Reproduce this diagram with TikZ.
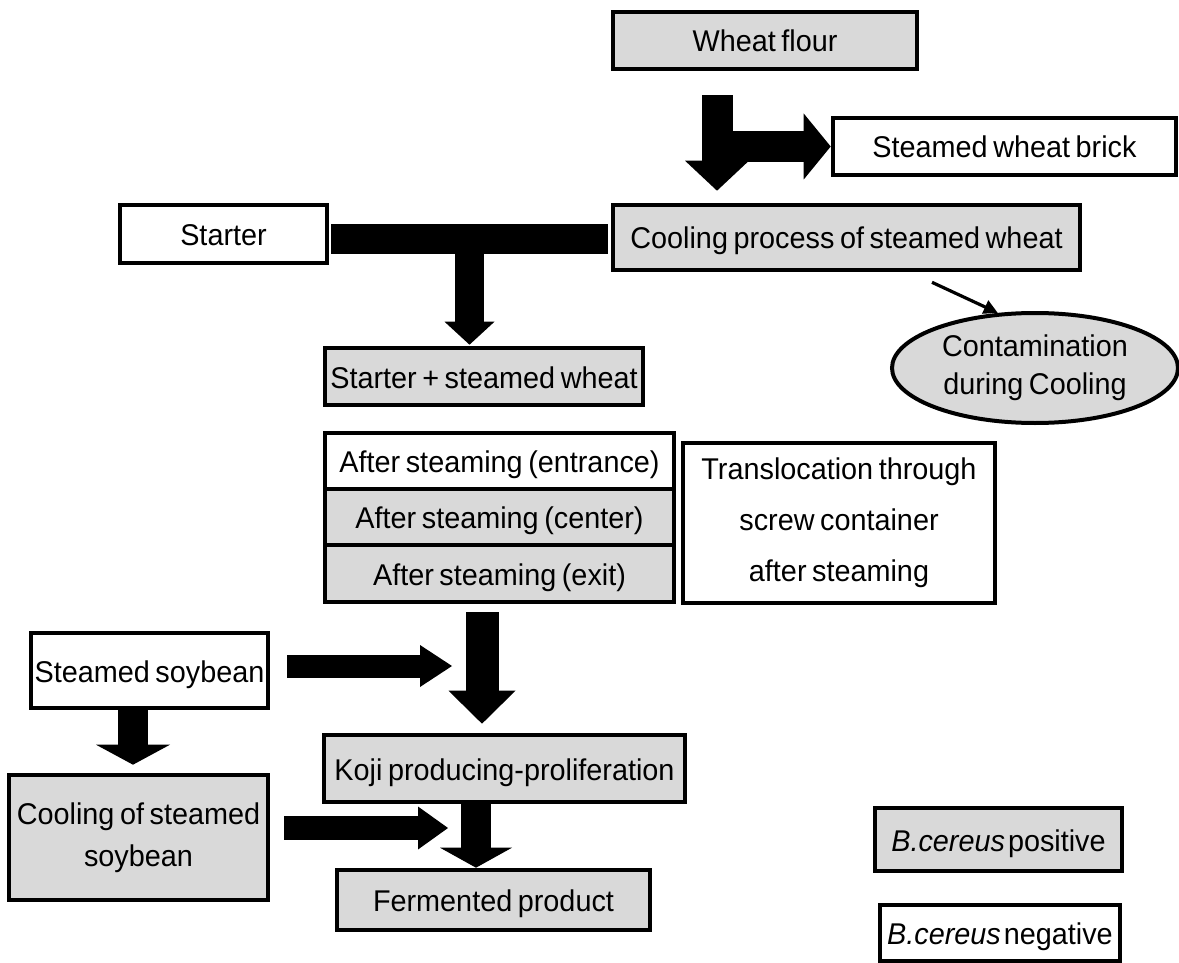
\documentclass[tikz,border=0pt]{standalone}
\usepackage{fontspec}
\setmainfont{Liberation Sans}[FakeStretch=0.96, WordSpace=0.7]
\usetikzlibrary{arrows.meta,shapes.geometric,calc}
\definecolor{boxgray}{RGB}{217,217,217}
\tikzset{
  base/.style={draw, line width=2.3pt, inner sep=0pt,
    font=\fontsize{15}{18}\selectfont, text height=11.5pt, text depth=0pt},
  grayb/.style={base, fill=boxgray},
  whiteb/.style={base, fill=white},
  multi/.style={draw, line width=2.3pt, inner sep=0pt, align=center},
  sz/.style 2 args={minimum width=#1, minimum height=#2},
  fatarrow/.style n args={3}{line width=#1,
    -{Triangle[length=#3, width=#2, line width=0pt]}},
  thinarrow/.style={line width=1.6pt, -{Triangle[length=7pt, width=7pt]}}
}
\begin{document}
\begin{tikzpicture}[x=0.5pt, y=-0.5pt]
\useasboundingbox (0,0) rectangle (1179,963);

% wheat branch
\node[grayb, sz={152pt}{28.5pt}] (wf) at (765,40.5) {Wheat flour};
\node[whiteb, sz={171.5pt}{28.5pt}] (brick) at (1004.5,146.5) {Steamed wheat brick};
\node[grayb, sz={233.5pt}{32.5pt}] (cool) at (846.5,237.5) {Cooling process of steamed wheat};
\node[whiteb, sz={103.5pt}{29pt}] (starter) at (223.5,234) {Starter};
\node[grayb, sz={159pt}{28.5pt}] (mix) at (484,376.5) {Starter + steamed wheat};
\node[ellipse, draw, line width=2pt, fill=boxgray, inner sep=0pt,
      minimum width=143pt, minimum height=55pt, align=center,
      font=\fontsize{15}{19}\selectfont] (contam) at (1035,368)
      {Contamination\\during Cooling};

% screw container stages
\node[whiteb, sz={174.5pt}{28pt}] (ent) at (499.5,461) {After steaming (entrance)};
\node[grayb, sz={174.5pt}{28pt}] (cen) at (499.5,517) {After steaming (center)};
\node[grayb, sz={174.5pt}{28.5pt}] (exit) at (499.5,573.5) {After steaming (exit)};
\node[multi, fill=white, sz={156pt}{80pt},
      font=\fontsize{15}{25.5}\selectfont] (trans) at (839,523)
      {Translocation through\\screw container\\after steaming};

% soybean branch and products
\node[whiteb, sz={118.5pt}{37.5pt}] (soy) at (149.5,670.5) {Steamed soybean};
\node[multi, fill=boxgray, sz={129.5pt}{62.5pt},
      font=\fontsize{15}{21}\selectfont] (coolsoy) at (138.5,837.5)
      {Cooling of steamed\\soybean};
\node[grayb, sz={180.5pt}{33.5pt}] (koji) at (504.5,768.5) {Koji producing-proliferation};
\node[grayb, sz={156.5pt}{30pt}] (ferm) at (493.5,900) {Fermented product};

% legend
\node[grayb, sz={123.5pt}{31.5pt}] (pos) at (998.5,839.5) {\textit{B.cereus}\hspace{1.5pt}positive};
\node[whiteb, sz={120pt}{28pt}] (neg) at (1000,933) {\textit{B.cereus}\hspace{1.5pt}negative};

% helper points for the block arrows
\coordinate (wfx) at ($(wf.south)+(-48,24)$);
\coordinate (forkx) at ($(wf.south)+(-40,0)$);
\coordinate (barL) at ($(starter.east)+(2,5)$);
\coordinate (barR) at ($(cool.west)+(-3,1.5)$);
\coordinate (barmid) at ($(barL)!.5!(barR)$);
\coordinate (sx) at ($(exit.south)+(-17.5,8)$);
\coordinate (soyx) at ($(soy.south)+(-16.5,0)$);
\coordinate (kx) at ($(koji.south)+(-28.5,0)$);
\coordinate (soyjoin) at (452,666);
\coordinate (coolsoyjoin) at (448,828);

% block arrows
\draw[fatarrow={15.5pt}{32pt}{15pt}, shorten >=6pt] (wfx) -- (wfx |- cool.north);
\draw[fatarrow={15.5pt}{33pt}{13.5pt}] (forkx |- brick.west) -- (brick.west);
\draw[line width=15pt] (barL) -- (barR);
\draw[fatarrow={14.5pt}{25pt}{11.5pt}, shorten >=0.5pt] (barmid) -- (barmid |- mix.north);
\draw[fatarrow={16.5pt}{33.5pt}{16.5pt}, shorten >=4.5pt] (sx) -- (sx |- koji.north);
\draw[fatarrow={11.5pt}{21pt}{16pt}] ($(soy.east)+(17,-4.5)$) -- (soyjoin);
\draw[fatarrow={15pt}{37pt}{10pt}, shorten >=4pt] (soyx) -- (soyx |- coolsoy.north);
\draw[fatarrow={12pt}{21.5pt}{15pt}] ($(coolsoy.east)+(14,-9.5)$) -- (coolsoyjoin);
\draw[fatarrow={15pt}{36pt}{10pt}] (kx) -- (kx |- ferm.north);

% contamination pointer
\draw[thinarrow] ($(cool.south)+(85.5,10)$) -- (contam.124);
\end{tikzpicture}
\end{document}
